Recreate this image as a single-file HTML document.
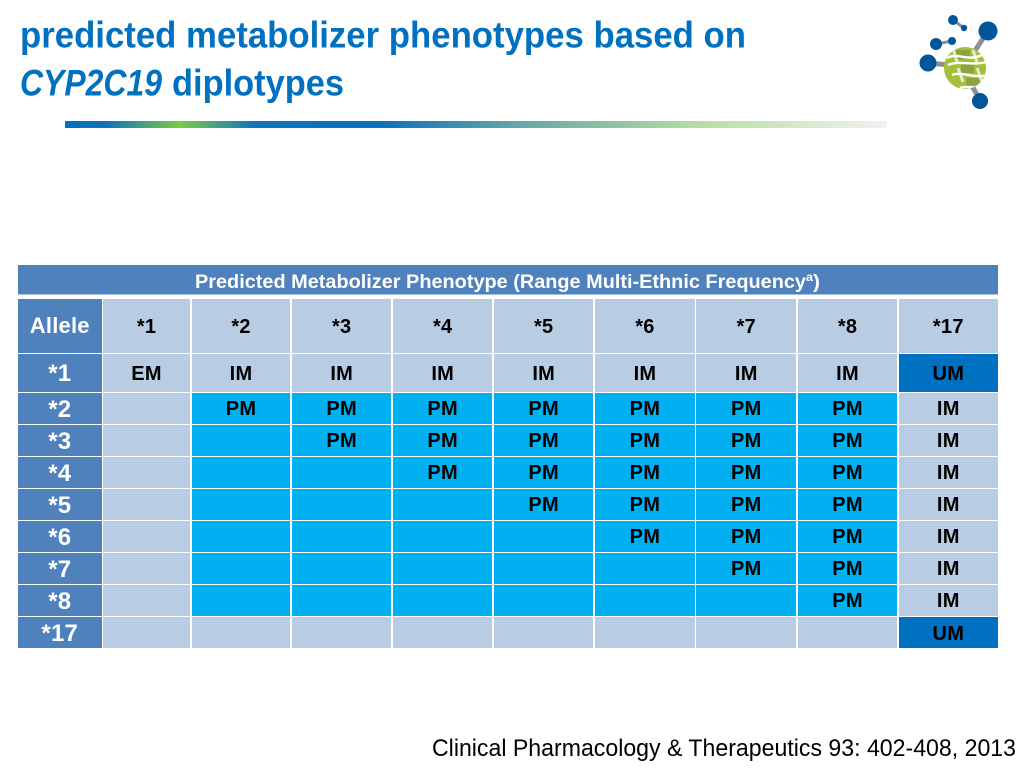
<!DOCTYPE html>
<html lang="en">
<head>
<meta charset="utf-8">
<title>Predicted metabolizer phenotypes based on CYP2C19 diplotypes</title>
<style>
html,body{margin:0;padding:0;background:#fff;}
body{width:1024px;height:768px;position:relative;overflow:hidden;font-family:"Liberation Sans",sans-serif;}
svg.layer{position:absolute;left:0;top:0;}
#grid{position:absolute;left:18px;top:298.5px;width:980px;height:350px;display:grid;
grid-template-columns:83.5px 87.2px 98.8px 99.5px 99.5px 99.5px 100px 99.7px 99.8px 98.7px;
grid-template-rows:54px 37.5px 30.5px 30.5px 30.5px 30.5px 30.5px 30.5px 30.5px 31px;
column-gap:1.5px;row-gap:1.5px;font-weight:bold;font-size:20px;color:#000;}
#grid div{display:flex;align-items:center;justify-content:center;letter-spacing:.3px;box-sizing:border-box;padding-top:3px;}
#grid .h{background:#4f81bd;color:#fff;font-size:24px;letter-spacing:.2px;}
#grid .a{font-size:22px;padding-top:1px;}
.l{background:#b8cce4;}
.c{background:#00b0f0;}
.d{background:#0070c0;}
</style>
</head>
<body>
<svg class="layer" width="1024" height="768" viewBox="0 0 1024 768">
<defs>
<linearGradient id="rule" x1="0" x2="1" y1="0" y2="0">
<stop offset="0" stop-color="#0070c0"/>
<stop offset=".05" stop-color="#0f72b8"/>
<stop offset=".14" stop-color="#7ccb45"/>
<stop offset=".23" stop-color="#1075bb"/>
<stop offset=".38" stop-color="#0870bd"/>
<stop offset=".55" stop-color="#65a6a8"/>
<stop offset=".78" stop-color="#b9dfa3"/>
<stop offset="1" stop-color="#f1f1f1"/>
</linearGradient>
<clipPath id="ball"><circle cx="965" cy="68" r="21"/></clipPath>
</defs>
<text x="20" y="47.5" font-size="37" font-weight="bold" fill="#0070c0" textLength="726" lengthAdjust="spacingAndGlyphs">predicted metabolizer phenotypes based on</text>
<text x="20" y="95.5" font-size="37" font-weight="bold" fill="#0070c0"><tspan font-style="italic" textLength="142" lengthAdjust="spacingAndGlyphs">CYP2C19</tspan><tspan x="172" textLength="172" lengthAdjust="spacingAndGlyphs">diplotypes</tspan></text>
<rect x="65" y="121" width="822" height="7" fill="url(#rule)"/>
<g>
<line x1="953" y1="20" x2="964" y2="28" stroke="#8a9299" stroke-width="3"/>
<line x1="936" y1="44" x2="952" y2="41" stroke="#8a9299" stroke-width="3"/>
<line x1="974" y1="52" x2="988" y2="31" stroke="#8a9299" stroke-width="5"/>
<line x1="928" y1="63" x2="950" y2="65" stroke="#8a9299" stroke-width="5"/>
<line x1="972" y1="86" x2="980" y2="100" stroke="#8a9299" stroke-width="5"/>
<circle cx="965" cy="68" r="21" fill="#a2c03a"/>
<g clip-path="url(#ball)">
<path d="M955 50 h15 v9 h-15z M961 64 h13 v9 h-13z M966 78 h14 v9 h-14z" fill="#8ea53f"/>
<path d="M953 48 L957 62 M973 50 L977 62 M958 68 L963 82 M977 68 L982 82" fill="none" stroke="#e4edc4" stroke-width="3"/>
<path d="M947 58 C958 52 968 62 982 55 M948 65 C960 60 972 66 986 62 M952 75 C962 71 974 79 988 75 M960 88 C968 85 976 90 986 84" fill="none" stroke="#fff" stroke-width="2.4"/>
</g>
<circle cx="988" cy="31" r="9.5" fill="#00559b"/>
<circle cx="953" cy="20" r="5" fill="#00559b"/>
<circle cx="964" cy="28" r="3.2" fill="#00559b"/>
<circle cx="936" cy="44" r="6" fill="#00559b"/>
<circle cx="952" cy="41" r="4" fill="#00559b"/>
<circle cx="928" cy="63" r="8.5" fill="#00559b"/>
<circle cx="980" cy="101" r="8" fill="#00559b"/>
</g>
<rect x="18" y="265" width="980" height="29.5" fill="#4f81bd"/>
<text x="195" y="288" font-size="19.5" font-weight="bold" fill="#fff"><tspan textLength="611" lengthAdjust="spacingAndGlyphs">Predicted Metabolizer Phenotype (Range Multi-Ethnic Frequency</tspan><tspan font-size="12" dy="-7" textLength="7" lengthAdjust="spacingAndGlyphs">a</tspan><tspan dy="7" textLength="7" lengthAdjust="spacingAndGlyphs">)</tspan></text>
<text x="432" y="756" font-size="24.5" fill="#000" textLength="584" lengthAdjust="spacingAndGlyphs">Clinical Pharmacology &amp; Therapeutics 93: 402-408, 2013</text>
</svg>
<div id="grid">
<div class="h a">Allele</div>
<div class="l">*1</div>
<div class="l">*2</div>
<div class="l">*3</div>
<div class="l">*4</div>
<div class="l">*5</div>
<div class="l">*6</div>
<div class="l">*7</div>
<div class="l">*8</div>
<div class="l">*17</div>

<div class="h">*1</div>
<div class="l">EM</div>
<div class="l">IM</div>
<div class="l">IM</div>
<div class="l">IM</div>
<div class="l">IM</div>
<div class="l">IM</div>
<div class="l">IM</div>
<div class="l">IM</div>
<div class="d">UM</div>

<div class="h">*2</div>
<div class="l"></div>
<div class="c">PM</div>
<div class="c">PM</div>
<div class="c">PM</div>
<div class="c">PM</div>
<div class="c">PM</div>
<div class="c">PM</div>
<div class="c">PM</div>
<div class="l">IM</div>

<div class="h">*3</div>
<div class="l"></div>
<div class="c"></div>
<div class="c">PM</div>
<div class="c">PM</div>
<div class="c">PM</div>
<div class="c">PM</div>
<div class="c">PM</div>
<div class="c">PM</div>
<div class="l">IM</div>

<div class="h">*4</div>
<div class="l"></div>
<div class="c"></div>
<div class="c"></div>
<div class="c">PM</div>
<div class="c">PM</div>
<div class="c">PM</div>
<div class="c">PM</div>
<div class="c">PM</div>
<div class="l">IM</div>

<div class="h">*5</div>
<div class="l"></div>
<div class="c"></div>
<div class="c"></div>
<div class="c"></div>
<div class="c">PM</div>
<div class="c">PM</div>
<div class="c">PM</div>
<div class="c">PM</div>
<div class="l">IM</div>

<div class="h">*6</div>
<div class="l"></div>
<div class="c"></div>
<div class="c"></div>
<div class="c"></div>
<div class="c"></div>
<div class="c">PM</div>
<div class="c">PM</div>
<div class="c">PM</div>
<div class="l">IM</div>

<div class="h">*7</div>
<div class="l"></div>
<div class="c"></div>
<div class="c"></div>
<div class="c"></div>
<div class="c"></div>
<div class="c"></div>
<div class="c">PM</div>
<div class="c">PM</div>
<div class="l">IM</div>

<div class="h">*8</div>
<div class="l"></div>
<div class="c"></div>
<div class="c"></div>
<div class="c"></div>
<div class="c"></div>
<div class="c"></div>
<div class="c"></div>
<div class="c">PM</div>
<div class="l">IM</div>

<div class="h">*17</div>
<div class="l"></div>
<div class="l"></div>
<div class="l"></div>
<div class="l"></div>
<div class="l"></div>
<div class="l"></div>
<div class="l"></div>
<div class="l"></div>
<div class="d">UM</div>
</div>
</body>
</html>
